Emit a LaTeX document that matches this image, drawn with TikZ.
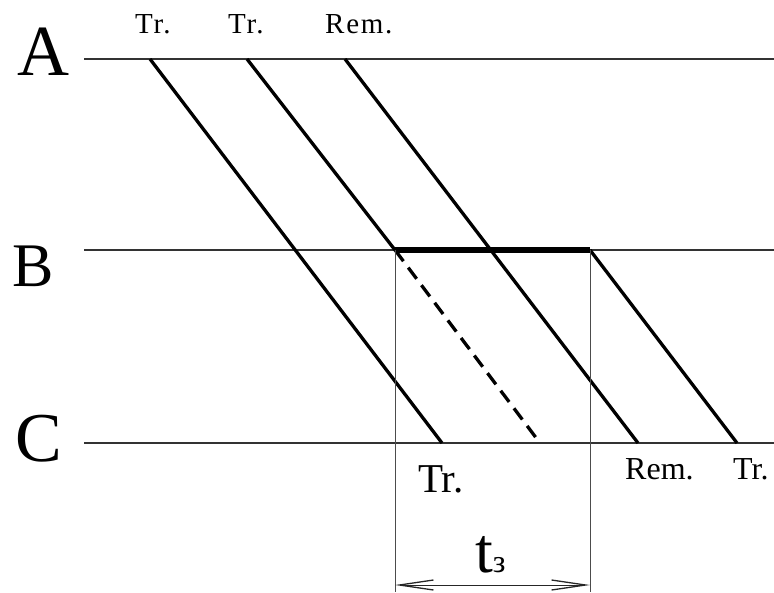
\documentclass[tikz,border=0pt]{standalone}
\usepackage{fontspec}
\setmainfont{Liberation Serif}
\usetikzlibrary{arrows.meta, positioning}

\tikzset{
  level/.style={line width=1.5pt, black!80},
  train/.style={line width=3.3pt},
  guide/.style={line width=1pt, black!70},
  lbl/.style={inner sep=0pt, anchor=base west},
  big/.style={lbl, font=\fontsize{70}{70}\selectfont},
}

\begin{document}
\begin{tikzpicture}[x=1pt, y=-1pt]
    \useasboundingbox (0,0) rectangle (774,592);
    % Stations A, B, C
    \coordinate (A0) at (84,59);  \coordinate (A1) at (774,59);
    \coordinate (B0) at (84,250); \coordinate (B3) at (774,250);
    \coordinate (C0) at (84,443); \coordinate (C1) at (774,443);
    \draw[level] (A0) -- (A1);
    \draw[level] (B0) -- (B3);
    \draw[level] (C0) -- (C1);
    \node[big, font=\fontsize{72}{72}\selectfont] (labA) at (17,75) {A};
    \node[big, font=\fontsize{62}{62}\selectfont] (labB) at (12,286) {B};
    \node[big] (labC) at (15,461) {C};

    % Train paths
    \coordinate (P1) at (150,59);  \coordinate (Q1) at (442,443);
    \coordinate (P2) at (247,59);  \coordinate (B1) at (395,250);
    \coordinate (Q2) at (540,443);
    \coordinate (P3) at (345,59);  \coordinate (Q3) at (638,443);
    \coordinate (B2) at (590,250); \coordinate (Q4) at (737,443);
    \draw[train] (P1) -- (Q1);
    \draw[train] (P2) -- (B1);
    \draw[train, dash pattern=on 14pt off 8pt] (B1) -- (Q2);
    \draw[train] (P3) -- (Q3);
    \draw[train] (B2) -- (Q4);
    \draw[line width=5.5pt] (B1) -- (B2);

    % Interval t_3
    \coordinate (D1) at (395,592); \coordinate (D2) at (590,592);
    \coordinate (T1) at (395,585); \coordinate (T2) at (590,585);
    \draw[guide] (B1) -- (D1);
    \draw[guide] (B2) -- (D2);
    \draw[guide, black!85, {Straight Barb[length=34pt, width=10pt, line width=1.3pt]}-{Straight Barb[length=34pt, width=10pt, line width=1.3pt]}] (T1) -- (T2);
    \node[lbl, font=\fontsize{64}{64}\selectfont] (tz) at (475,572) {t\fontsize{32}{32}\selectfont з};

    % Labels of trains
    \node[lbl, font=\fontsize{29}{29}\selectfont\addfontfeature{LetterSpace=6}] (top1) at (135,33) {Tr.};
    \node[lbl, font=\fontsize{29}{29}\selectfont\addfontfeature{LetterSpace=6}] (top2) at (228,33) {Tr.};
    \node[lbl, font=\fontsize{29}{29}\selectfont\addfontfeature{LetterSpace=6}] (top3) at (325,33) {Rem.};
    \node[lbl, font=\fontsize{41}{41}\selectfont] (bot1) at (418,492) {Tr.};
    \node[lbl, font=\fontsize{32}{32}\selectfont] (bot2) at (625,479) {Rem.};
    \node[lbl, font=\fontsize{32}{32}\selectfont] (bot3) at (733,479) {Tr.};
\end{tikzpicture}
\end{document}
